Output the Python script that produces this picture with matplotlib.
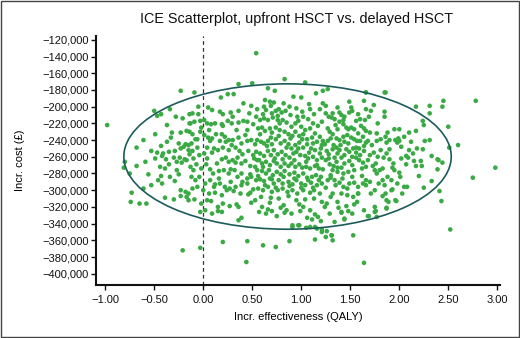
import matplotlib
matplotlib.use("Agg")
import matplotlib.pyplot as plt
from matplotlib.patches import Ellipse, Rectangle
from matplotlib.ticker import FuncFormatter, MultipleLocator
import numpy as np

# incremental QALY / incremental cost (thousand £) per simulation
pts_west = [
    (-0.23, -181), (-0.50, -205), (-0.47, -211), (-0.43, -209), (-0.34, -203), (-0.28, -212),
    (-0.21, -214), (-0.14, -220), (-0.37, -222), (-0.49, -233), (-0.23, -231), (-0.17, -229),
    (-0.33, -237), (-0.37, -242), (-0.25, -244), (-0.18, -245), (-0.15, -246), (-0.68, -249),
    (-0.53, -253), (-0.47, -255), (-0.41, -256), (-0.35, -254), (-0.29, -253), (-0.23, -250),
    (-0.20, -248), (-0.15, -252), (-0.59, -266), (-0.49, -262), (-0.42, -259), (-0.38, -263),
    (-0.30, -261), (-0.24, -261), (-0.19, -263), (-0.17, -264), (-0.80, -266), (-0.68, -271),
    (-0.44, -272), (-0.39, -274), (-0.35, -269), (-0.27, -266), (-0.22, -267), (-0.81, -273),
    (-0.75, -280), (-0.43, -283), (-0.34, -284), (-0.29, -289), (-0.25, -281), (-0.46, -288),
    (-0.42, -292), (-0.53, -294), (-0.61, -298), (-0.73, -303), (-0.23, -300), (-0.18, -302),
    (-0.15, -304), (-0.39, -309), (-0.30, -311), (-0.23, -307), (-0.17, -308), (-0.65, -316),
    (-0.58, -316), (-0.15, -312), (-0.74, -314), (-0.09, -183),
    (-0.32, -231), (-0.43, -247), (-0.27, -276), (-0.56, -281), (-0.10, -262), (-0.61, -240),
    (-0.05, -200),
]

pts_core_left = [
    (0.36, -173), (0.50, -172), (0.18, -189), (0.25, -185), (0.31, -185), (0.41, -196),
    (0.49, -199), (0.05, -201), (0.09, -204), (0.17, -206), (0.20, -209), (0.28, -207),
    (0.36, -205), (0.30, -212), (-0.14, -209), (-0.11, -208), (-0.05, -209), (-0.03, -217),
    (-0.09, -218), (-0.13, -220), (0.01, -216), (0.04, -220), (0.08, -221), (0.12, -220),
    (0.19, -221), (0.25, -217), (0.29, -220), (0.36, -219), (0.41, -217), (0.45, -218),
    (0.51, -221), (0.54, -212), (-0.02, -225), (-0.03, -230), (0.01, -234), (0.05, -237),
    (0.09, -238), (0.13, -233), (0.19, -233), (0.22, -236), (0.17, -241), (0.07, -241),
    (0.26, -240), (0.30, -240), (0.36, -237), (0.39, -244), (0.45, -241), (0.49, -240),
    (0.53, -245), (-0.14, -230), (-0.11, -233), (-0.08, -239), (-0.12, -244), (-0.06, -249),
    (-0.11, -253), (-0.14, -257), (-0.04, -258), (0.01, -256), (0.04, -249), (0.11, -250),
    (0.15, -252), (0.20, -249), (0.26, -252), (0.29, -246), (0.33, -249), (0.37, -253),
    (0.40, -257), (0.46, -253), (0.51, -258), (0.55, -264), (0.14, -268), (0.19, -263),
    (0.23, -261), (0.26, -266), (0.30, -264), (0.35, -261), (0.39, -268), (0.43, -265),
    (0.48, -271), (0.53, -272), (-0.13, -272), (-0.10, -276), (-0.07, -269), (-0.02, -274),
    (0.03, -269), (0.07, -275), (0.10, -280), (0.16, -277), (0.21, -276), (0.26, -280),
    (0.32, -276), (0.35, -284), (0.39, -280), (0.45, -286), (0.49, -284), (0.54, -288),
    (-0.12, -284), (-0.08, -288), (-0.04, -284), (0.02, -292), (0.07, -288), (0.12, -293),
    (0.17, -292), (0.22, -296), (0.28, -290), (0.33, -296), (0.39, -294), (0.45, -292),
    (0.51, -299), (-0.11, -298), (-0.06, -296), (0.00, -300), (0.06, -304), (0.12, -303),
    (0.19, -306), (0.24, -300), (0.31, -301), (0.38, -304), (0.48, -303), (-0.09, -311),
    (-0.02, -316), (0.04, -312), (0.08, -313), (0.15, -320), (0.20, -316), (0.27, -319),
    (0.34, -317), (0.36, -320), (0.49, -315), (-0.03, -326), (0.02, -324), (0.09, -328),
    (0.15, -325), (0.19, -326), (0.36, -336), (0.39, -333),
    (0.04, -262), (0.09, -255), (0.16, -286), (0.23, -242), (0.28, -275), (0.34, -228),
    (0.40, -290), (0.43, -234), (0.06, -228), (0.11, -296), (-0.06, -239), (0.27, -298),
    (0.33, -267), (0.20, -223), (0.46, -305),
]

pts_core = [
    (0.83, -167), (1.04, -171), (0.66, -178), (0.73, -181), (0.92, -188), (1.00, -189),
    (1.15, -184), (1.22, -196), (0.63, -192), (0.68, -194), (0.72, -195), (0.64, -204),
    (0.62, -200), (0.70, -208), (0.74, -205), (0.77, -203), (0.80, -207), (0.84, -205),
    (0.88, -200), (0.96, -212), (1.02, -212), (1.07, -215), (1.09, -203), (1.12, -220),
    (1.17, -223), (1.21, -218), (0.58, -216), (0.62, -214), (0.66, -216), (0.71, -213),
    (0.76, -216), (0.78, -220), (0.81, -216), (0.85, -219), (0.90, -224), (0.94, -220),
    (0.97, -217), (1.00, -224), (1.04, -228), (1.09, -226), (1.14, -232), (1.19, -236),
    (1.22, -241), (0.56, -226), (0.60, -225), (0.63, -229), (0.68, -226), (0.70, -231),
    (0.74, -225), (0.78, -228), (0.83, -230), (0.87, -233), (0.91, -235), (0.94, -230),
    (0.98, -235), (1.02, -233), (1.06, -239), (1.11, -237), (1.16, -242), (1.21, -246),
    (0.55, -240), (0.59, -242), (0.62, -244), (0.66, -241), (0.70, -245), (0.74, -239),
    (0.79, -244), (0.83, -241), (0.87, -245), (0.90, -250), (0.94, -246), (0.98, -243),
    (1.02, -249), (1.06, -245), (1.10, -250), (1.14, -252), (1.19, -256), (0.54, -254),
    (0.58, -256), (0.62, -259), (0.66, -253), (0.69, -258), (0.72, -252), (0.76, -257),
    (0.80, -254), (0.84, -258), (0.88, -261), (0.92, -256), (0.95, -254), (0.99, -258),
    (1.04, -259), (1.07, -262), (1.12, -260), (1.16, -264), (1.21, -261), (0.57, -264),
    (0.60, -268), (0.64, -266), (0.68, -270), (0.72, -265), (0.75, -268), (0.79, -272),
    (0.83, -268), (0.87, -271), (0.90, -268), (0.94, -272), (0.98, -269), (1.01, -273),
    (1.05, -272), (1.09, -274), (1.14, -271), (1.18, -274), (1.22, -275), (0.55, -276),
    (0.60, -277), (0.64, -280), (0.67, -276), (0.71, -282), (0.75, -278), (0.79, -281),
    (0.83, -277), (0.88, -281), (0.93, -279), (0.97, -283), (1.02, -280), (1.06, -285),
    (1.11, -284), (1.15, -282), (1.20, -284), (0.58, -287), (0.62, -289), (0.68, -286),
    (0.72, -292), (0.77, -288), (0.81, -292), (0.87, -290), (0.91, -293), (0.95, -288),
    (1.00, -292), (1.04, -294), (1.10, -291), (1.16, -294), (1.21, -292), (0.56, -298),
    (0.61, -300), (0.66, -296), (0.70, -302), (0.76, -300), (0.81, -298), (0.86, -302),
    (0.91, -300), (0.96, -304), (1.02, -300), (1.09, -303), (1.13, -300), (1.19, -304),
    (0.59, -308), (0.69, -309), (0.77, -310), (0.87, -307), (0.95, -312), (1.04, -311),
    (1.13, -310), (1.21, -314), (0.60, -320), (0.66, -323), (0.70, -325), (0.64, -328),
    (0.79, -321), (0.85, -324), (0.90, -328), (0.83, -327), (0.98, -317), (1.02, -320),
    (1.09, -324), (1.14, -329), (1.17, -332), (1.11, -335), (1.20, -337), (0.91, -342),
    (0.97, -342), (1.05, -345), (1.14, -344), (1.21, -350), (1.14, -359),
    (0.45, -228), (0.52, -262), (0.58, -233), (0.61, -272), (0.65, -247), (0.69, -237),
    (0.73, -262), (0.77, -235), (0.81, -263), (0.85, -249), (0.89, -238), (0.93, -264),
    (0.97, -250), (1.01, -239), (1.05, -266), (1.08, -255), (1.12, -244), (1.16, -270),
    (1.20, -250), (0.48, -281), (0.56, -283), (0.63, -294), (0.70, -287), (0.74, -297),
    (0.82, -284), (0.88, -295), (0.93, -286), (1.00, -297), (1.07, -288), (1.12, -297),
    (1.18, -288), (0.47, -208), (0.55, -203), (0.61, -209), (0.69, -199), (0.76, -211),
    (0.82, -196), (0.89, -210), (0.95, -202), (1.01, -206), (1.08, -197), (1.13, -209),
    (1.19, -203), (0.53, -312), (0.68, -315), (0.82, -318), (0.99, -325), (1.06, -333),
    (0.75, -331), (0.57, -326),
]

pts_core_right = [
    (1.27, -179), (1.66, -183), (1.85, -183), (1.64, -193), (1.74, -198), (1.49, -194),
    (1.51, -201), (1.66, -203), (1.85, -206), (1.85, -212), (1.78, -220), (1.25, -208),
    (1.28, -212), (1.32, -208), (1.39, -207), (1.41, -210), (1.43, -216), (1.39, -218),
    (1.49, -207), (1.56, -217), (1.60, -215), (1.69, -212), (1.34, -215), (1.35, -222),
    (1.37, -227), (1.43, -221), (1.46, -225), (1.48, -227), (1.51, -225), (1.54, -227),
    (1.58, -232), (1.61, -223), (1.64, -226), (1.66, -229), (1.70, -231), (1.68, -241),
    (1.77, -232), (1.77, -241), (1.88, -231), (1.86, -236), (1.87, -243), (1.90, -240),
    (1.81, -252), (1.27, -226), (1.29, -230), (1.32, -233), (1.30, -238), (1.27, -241),
    (1.36, -238), (1.39, -240), (1.43, -236), (1.44, -242), (1.47, -234), (1.51, -237),
    (1.54, -239), (1.57, -241), (1.60, -241), (1.63, -236), (1.64, -247), (1.66, -243),
    (1.59, -250), (1.53, -250), (1.56, -255), (1.49, -254), (1.46, -251), (1.39, -252),
    (1.36, -249), (1.33, -246), (1.37, -256), (1.41, -261), (1.34, -261), (1.26, -253),
    (1.28, -257), (1.25, -264), (1.29, -269), (1.33, -271), (1.37, -273), (1.41, -273),
    (1.44, -268), (1.49, -265), (1.52, -260), (1.56, -261), (1.59, -264), (1.63, -267),
    (1.66, -272), (1.62, -274), (1.54, -276), (1.48, -278), (1.43, -280), (1.37, -278),
    (1.32, -276), (1.30, -282), (1.27, -288), (1.34, -288), (1.39, -291), (1.43, -296),
    (1.49, -292), (1.54, -291), (1.63, -292), (1.66, -294), (1.66, -288), (1.73, -271),
    (1.75, -276), (1.77, -280), (1.80, -276), (1.78, -260), (1.74, -255), (1.70, -258),
    (1.84, -261), (1.87, -256), (1.90, -263), (1.83, -274), (1.88, -284), (1.92, -288),
    (1.83, -288), (1.79, -292), (1.85, -294), (1.83, -307), (1.86, -304), (1.89, -314),
    (1.92, -300), (1.75, -300), (1.71, -304), (1.58, -304), (1.53, -308), (1.47, -306),
    (1.41, -304), (1.32, -304), (1.30, -308), (1.37, -314), (1.46, -319), (1.54, -317),
    (1.64, -324), (1.75, -320), (1.87, -321), (1.24, -320), (1.29, -328), (1.41, -327),
    (1.48, -325), (1.44, -334), (1.26, -349), (1.31, -354), (1.68, -331), (1.75, -326),
    (1.77, -332),
    (1.24, -245), (1.28, -262), (1.32, -251), (1.36, -266), (1.40, -246), (1.44, -258),
    (1.48, -244), (1.52, -270), (1.56, -249), (1.60, -258), (1.64, -253), (1.68, -264),
    (1.72, -246), (1.76, -268), (1.25, -297), (1.30, -285), (1.35, -294), (1.42, -286),
    (1.47, -298), (1.52, -284), (1.58, -296), (1.62, -283), (1.70, -290), (1.25, -199),
    (1.31, -213), (1.37, -201), (1.44, -212), (1.52, -205), (1.58, -209), (1.65, -216),
    (1.71, -205), (1.26, -316), (1.38, -321), (1.52, -328), (1.57, -314), (1.34, -338),
]

pts_east = [
    (2.00, -227), (2.10, -231), (2.17, -229), (1.96, -240), (1.99, -238), (2.00, -241),
    (1.98, -243), (2.12, -242), (2.26, -241), (2.31, -240), (2.02, -248), (2.18, -250),
    (2.24, -251), (2.10, -252), (2.07, -259), (2.09, -261), (2.02, -262), (2.15, -265),
    (2.22, -265), (2.40, -264), (2.07, -269), (2.17, -271), (2.23, -271), (1.93, -273),
    (1.95, -276), (2.00, -279), (2.01, -284), (2.05, -296), (2.08, -296), (1.98, -292),
    (1.93, -299), (1.96, -312),
    (1.90, -251), (1.94, -268), (1.81, -239), (1.95, -227), (2.05, -236), (2.14, -256),
    (2.20, -283),
]

pts_outliers = [
    (-0.98, -222), (0.54, -136), (-0.21, -372), (-0.03, -369), (0.20, -362), (0.45, -361),
    (0.44, -386), (0.61, -366), (0.74, -368), (0.88, -361), (0.91, -344), (0.98, -342),
    (2.52, -347), (1.64, -387), (2.43, -313), (2.41, -301), (1.53, -354), (1.31, -354),
    (1.32, -360), (1.25, -356), (1.21, -347), (1.44, -335), (1.41, -326), (1.69, -331),
    (1.76, -325), (1.87, -322), (1.97, -313), (1.87, -312), (2.03, -304), (1.58, -304),
    (1.09, -344), (1.16, -346), (2.98, -273), (2.78, -193), (2.75, -285), (2.60, -246),
    (2.51, -249), (2.50, -224), (2.45, -193), (2.44, -200), (2.31, -199), (2.31, -208),
    (2.24, -217), (2.25, -222), (2.17, -200), (1.86, -183), (1.66, -183), (2.44, -267),
    (2.39, -263), (2.33, -259), (2.39, -275), (2.33, -289), (2.25, -297), (1.22, -181),
]

# 95% confidence ellipse
ell_center = (0.86, -259700)
ell_width = 3.34
ell_height = 174000

all_pts = np.array(pts_west + pts_core_left + pts_core + pts_core_right + pts_east + pts_outliers)
qaly = all_pts[:, 0]
cost = all_pts[:, 1] * 1000

font_main = ["Liberation Sans", "DejaVu Sans"]

fig = plt.figure(figsize=(5.2, 3.38), dpi=100)
ax = fig.add_axes([0.185, 0.157, 0.777, 0.737])

ax.scatter(qaly, cost, s=11, color="#3aaa45", edgecolors="none", zorder=3)
ax.axvline(0, color="#333333", lw=0.9, ls=(0, (3, 2.5)), zorder=2)
ax.add_patch(Ellipse(ell_center, ell_width, ell_height, fill=False,
                     edgecolor="#1d5b5b", lw=1.2, zorder=4))

ax.set_xlim(-1.092, 3.03)
ax.set_ylim(-413400, -115200)
ax.xaxis.set_major_locator(MultipleLocator(0.5))
ax.yaxis.set_major_locator(MultipleLocator(20000))
ax.xaxis.set_major_formatter(FuncFormatter(lambda v, p: f"{v:.2f}".replace("-", "\u2212")))
ax.yaxis.set_major_formatter(FuncFormatter(lambda v, p: f"{v:,.0f}".replace("-", "\u2212")))

for s in ["top", "right"]:
    ax.spines[s].set_visible(False)
for s in ["left", "bottom"]:
    ax.spines[s].set_linewidth(1.5)
    ax.spines[s].set_color("#111111")
ax.tick_params(direction="out", length=3.5, width=1, color="#111111",
               labelsize=8, labelcolor="#111111")
ax.tick_params(axis="x", pad=4)
ax.tick_params(axis="y", pad=2)
for lab in ax.get_xticklabels() + ax.get_yticklabels():
    lab.set_family(font_main)

ax.set_xlabel("Incr. effectiveness (QALY)", family=font_main, fontsize=8, labelpad=5)
ax.set_ylabel("Incr. cost (\u00a3)", family=font_main, fontsize=8, labelpad=12)
fig.text(0.571, 0.945, "ICE Scatterplot, upfront HSCT vs. delayed HSCT",
         ha="center", va="center", family=font_main, fontsize=10.4, color="#111111")

fig.patches.append(Rectangle((0.001, 0.002), 0.997, 0.996, transform=fig.transFigure,
                             fill=False, edgecolor="#444444", lw=1.0))

fig.savefig("out.png", dpi=100)
